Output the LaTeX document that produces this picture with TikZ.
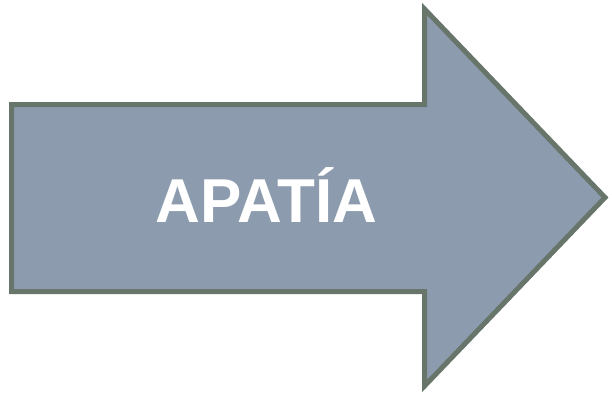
\documentclass[tikz,border=0pt]{standalone}
\usepackage{fontspec}
\setmainfont{Liberation Sans}
\definecolor{arrowfill}{RGB}{140,156,174}
\definecolor{arrowline}{RGB}{104,117,106}
\tikzset{bigarrow/.style={fill=arrowfill,draw=arrowline,line width=5pt,line join=miter}}
\begin{document}
\begin{tikzpicture}[x=1pt,y=1pt]
	\useasboundingbox (0,0) rectangle (612,392);
	\draw[bigarrow] (11.5,287.5)--(424.5,287.5)--(424.5,383)--(605,194.5)--(424.5,6)--(424.5,100.5)--(11.5,100.5)--cycle;
	\node[text=white,font=\bfseries\fontsize{62}{74}\selectfont,anchor=base,inner sep=0pt] (apatia) at (266.5,170) {APATÍA};
\end{tikzpicture}
\end{document}
